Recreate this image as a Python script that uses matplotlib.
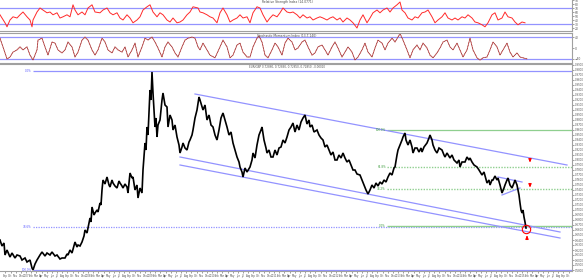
import numpy as np
import matplotlib
matplotlib.use("Agg")
import matplotlib.pyplot as plt

# ---------------- data ----------------
bar = [0, 2, 4, 5, 7, 10, 12, 15, 17, 20,
       22, 25, 27, 30, 32, 33, 35, 37, 40, 42,
       45, 47, 50, 52, 55, 57, 60, 62, 65, 67,
       68, 70, 72, 75, 77, 78, 80, 82, 84, 85,
       87, 88, 90, 91, 92, 94, 95, 97, 98, 100,
       101, 102, 103, 105, 107, 109, 110, 112, 113, 115,
       117, 119, 120, 122, 123, 125, 127, 128, 130, 132,
       133, 135, 137, 138, 140, 142, 143, 145, 146, 147,
       148, 150, 151, 152, 153, 154, 155, 156, 157, 158,
       160, 162, 163, 165, 167, 168, 170, 172, 173, 175,
       177, 179, 180, 182, 183, 185, 187, 189, 190, 192,
       193, 195, 197, 199, 200, 203, 205, 207, 209, 211,
       213, 215, 217, 219, 221, 223, 225, 227, 229, 231,
       233, 235, 237, 239, 240, 242, 243, 245, 247, 250,
       252, 253, 255, 257, 259, 261, 262, 264, 266, 267,
       269, 271, 273, 275, 277, 279, 281, 283, 285, 287,
       289, 291, 293, 295, 297, 299, 301, 303, 305, 307,
       309, 310, 312, 314, 317, 319, 321, 323, 325, 327,
       329, 331, 333, 335, 337, 339, 341, 343, 345, 347,
       349, 351, 353, 355, 357, 360, 362, 364, 366, 368,
       370, 372, 374, 376, 378, 380, 382, 384, 386, 388,
       390, 392, 394, 395, 397, 398, 400, 402, 403, 405,
       406, 408, 410, 412, 413, 415, 417, 419, 421, 422,
       424, 427, 429, 430, 432, 433, 435, 437, 439, 442,
       444, 445, 447, 450, 452, 454, 457, 459, 460, 462,
       465, 467, 469, 470, 472, 474, 477, 479, 482, 484,
       487, 489, 490, 492, 493, 495, 497, 498, 500, 502,
       504, 505, 507, 508, 510, 512, 514, 515, 517, 518,
       519, 520, 521, 522, 523, 524, 525, 526]

close = [0.640, 0.628, 0.634, 0.610, 0.620, 0.606, 0.614, 0.604, 0.610, 0.608,
         0.600, 0.604, 0.596, 0.600, 0.584, 0.580, 0.592, 0.600, 0.610, 0.616,
         0.608, 0.614, 0.610, 0.616, 0.608, 0.610, 0.602, 0.604, 0.604, 0.612,
         0.610, 0.620, 0.614, 0.636, 0.626, 0.630, 0.628, 0.636, 0.648, 0.660,
         0.654, 0.664, 0.684, 0.676, 0.706, 0.690, 0.694, 0.700, 0.696, 0.714,
         0.710, 0.740, 0.760, 0.752, 0.766, 0.750, 0.746, 0.760, 0.754, 0.748,
         0.744, 0.758, 0.754, 0.748, 0.744, 0.752, 0.746, 0.734, 0.774, 0.764,
         0.766, 0.740, 0.750, 0.724, 0.744, 0.734, 0.780, 0.834, 0.820, 0.866,
         0.850, 0.940, 0.920, 0.976, 0.934, 0.900, 0.866, 0.884, 0.846, 0.870,
         0.880, 0.920, 0.934, 0.910, 0.906, 0.866, 0.890, 0.880, 0.860, 0.870,
         0.846, 0.830, 0.814, 0.826, 0.834, 0.824, 0.820, 0.836, 0.840, 0.850,
         0.860, 0.884, 0.900, 0.926, 0.920, 0.900, 0.910, 0.880, 0.890, 0.870,
         0.866, 0.850, 0.840, 0.860, 0.884, 0.894, 0.880, 0.866, 0.850, 0.856,
         0.834, 0.820, 0.806, 0.796, 0.786, 0.776, 0.766, 0.784, 0.776, 0.786,
         0.800, 0.814, 0.804, 0.830, 0.850, 0.860, 0.866, 0.840, 0.824, 0.814,
         0.820, 0.806, 0.806, 0.820, 0.810, 0.824, 0.826, 0.840, 0.834, 0.846,
         0.860, 0.866, 0.874, 0.856, 0.870, 0.860, 0.876, 0.884, 0.890, 0.872,
         0.880, 0.866, 0.870, 0.856, 0.860, 0.850, 0.844, 0.840, 0.826, 0.830,
         0.820, 0.810, 0.816, 0.800, 0.800, 0.810, 0.804, 0.814, 0.804, 0.796,
         0.800, 0.790, 0.780, 0.780, 0.772, 0.770, 0.760, 0.750, 0.740, 0.732,
         0.740, 0.750, 0.744, 0.754, 0.748, 0.756, 0.752, 0.760, 0.756, 0.766,
         0.774, 0.770, 0.784, 0.786, 0.810, 0.820, 0.830, 0.840, 0.846, 0.854,
         0.840, 0.830, 0.840, 0.826, 0.814, 0.824, 0.824, 0.816, 0.824, 0.816,
         0.826, 0.834, 0.844, 0.850, 0.840, 0.830, 0.820, 0.814, 0.824, 0.820,
         0.810, 0.806, 0.814, 0.804, 0.810, 0.800, 0.794, 0.800, 0.786, 0.796,
         0.796, 0.806, 0.800, 0.804, 0.796, 0.790, 0.786, 0.780, 0.770, 0.776,
         0.754, 0.760, 0.750, 0.760, 0.760, 0.768, 0.760, 0.764, 0.750, 0.734,
         0.744, 0.750, 0.760, 0.764, 0.750, 0.744, 0.754, 0.760, 0.750, 0.740,
         0.730, 0.714, 0.700, 0.694, 0.700, 0.686, 0.676, 0.664]

rsi_bar = [0, 2, 5, 7, 10, 13, 17, 20, 23, 27, 30, 32, 33, 37, 40, 43, 47, 50, 53, 57,
           60, 63, 67, 70, 73, 75, 78, 82, 85, 88, 92, 95, 100, 103, 107, 110, 113, 117, 120, 123,
           127, 130, 133, 137, 140, 143, 147, 150, 153, 157, 160, 163, 167, 170, 173, 177, 180, 183, 187, 190,
           193, 198, 200, 203, 207, 210, 213, 217, 220, 223, 227, 230, 233, 237, 240, 243, 247, 250, 253, 257,
           260, 263, 267, 270, 273, 277, 280, 283, 287, 290, 293, 297, 300, 303, 307, 310, 313, 317, 320, 323,
           327, 330, 333, 337, 340, 343, 347, 350, 353, 357, 360, 363, 367, 370, 373, 377, 380, 383, 387, 390,
           393, 397, 400, 402, 405, 408, 412, 415, 418, 422, 425, 428, 432, 435, 438, 442, 445, 448, 452, 455,
           458, 462, 465, 468, 472, 475, 478, 482, 485, 488, 492, 495, 498, 502, 505, 508, 512, 515, 518, 522,
           525]
rsi = [54, 46, 34, 24, 41, 49, 46, 54, 61, 49, 41, 24, 41, 61, 71, 66, 59, 61, 54, 59,
       46, 49, 54, 49, 79, 66, 54, 61, 54, 71, 79, 61, 59, 66, 71, 59, 54, 59, 46, 41,
       54, 46, 34, 41, 49, 66, 74, 79, 61, 49, 59, 54, 41, 36, 46, 34, 36, 41, 54, 61,
       74, 71, 61, 59, 54, 49, 46, 34, 59, 71, 54, 36, 41, 46, 54, 46, 49, 34, 59, 74,
       71, 54, 36, 46, 54, 49, 59, 71, 61, 59, 61, 54, 46, 54, 46, 49, 41, 46, 49, 46,
       41, 46, 49, 41, 46, 36, 46, 41, 34, 21, 41, 54, 34, 46, 59, 66, 59, 66, 71, 61,
       71, 79, 86, 66, 59, 46, 41, 49, 46, 59, 61, 66, 49, 34, 41, 49, 59, 46, 41, 46,
       41, 49, 46, 54, 46, 36, 34, 29, 24, 34, 54, 59, 41, 46, 61, 49, 46, 36, 29, 36,
       34]

sto_bar = [0, 3, 7, 10, 13, 17, 20, 23, 27, 30, 33, 37, 38, 42, 45, 48, 52, 55, 58, 62,
           65, 68, 72, 75, 78, 82, 85, 88, 92, 95, 98, 102, 105, 108, 112, 115, 118, 122, 125, 128,
           132, 135, 138, 142, 145, 148, 152, 155, 158, 162, 165, 168, 172, 175, 178, 182, 185, 188, 192, 195,
           198, 200, 203, 207, 210, 215, 220, 223, 227, 230, 233, 237, 240, 243, 247, 250, 253, 257, 259, 262,
           265, 268, 272, 275, 278, 282, 285, 288, 292, 295, 298, 302, 305, 308, 312, 315, 318, 322, 325, 328,
           332, 335, 338, 342, 345, 348, 352, 355, 358, 362, 365, 368, 372, 375, 378, 382, 385, 388, 392, 395,
           398, 400, 403, 407, 410, 413, 417, 420, 423, 427, 430, 433, 437, 440, 443, 447, 450, 453, 457, 460,
           463, 467, 470, 473, 477, 480, 483, 487, 490, 493, 497, 500, 503, 507, 510, 513, 517, 520, 523, 527]
sto = [36, 4, -40, -33, -15, -7, 4, -7, 4, -26, -44, -7, 29, 36, 4, -26, 22, 18, -7, -18,
       -7, 22, 4, -33, -15, 29, 40, 29, -7, -26, -7, 36, 22, -7, -18, 4, -7, -15, 4, -33,
       -7, 18, -33, 4, 36, 29, 40, 22, 0, -33, 4, 22, 4, -18, -33, 4, 29, 36, 40, 36,
       4, -7, 18, -7, -26, -36, 4, 29, 4, -36, -26, 11, 18, -15, -33, -33, 4, 36, 44, 22,
       -26, -36, -7, 18, 4, -26, 18, 36, 22, -7, 0, 22, 29, 4, -26, -18, 4, 11, -7, -26,
       4, 22, 0, -33, -15, 4, -15, -44, -33, -7, 18, -15, -33, 0, 29, 18, -7, 18, 36, 22,
       40, 53, 29, -7, -36, -7, 11, -7, 18, 0, -26, -36, -18, 0, 22, 29, 4, -7, 18, -7,
       -33, -7, 36, -7, -36, -44, -36, -33, -7, 22, 4, -26, -7, 18, -15, -33, -18, -33, -36, -40]

rsi_levels = [70, 30]
sto_levels = [40, -40]

fib_high, fib_low = 0.978, 0.580
fib_pcts = [0.0, 0.786, 1.0]
fib2_high, fib2_low = 0.860, 0.668
fib2_pcts = [1.0, 0.618, 0.382, 0.0]

chan_upper_x, chan_upper_y = [195, 567], [0.932, 0.790]
chan_low1_x, chan_low1_y = [180, 560], [0.806, 0.656]
chan_low2_x, chan_low2_y = [180, 560], [0.790, 0.644]
flag_up_x, flag_up_y = [498, 522], [0.766, 0.756]
flag_dn_x, flag_dn_y = [502, 520], [0.730, 0.744]

sell_x = [530, 530]
sell_from = [0.806, 0.756]
sell_to = [0.790, 0.740]
buy_x, buy_from, buy_to = 527, 0.640, 0.654
target_x, target_y = 526, 0.662

month_names = ["Jan", "Feb", "Mar", "Apr", "May", "Jun", "Jul", "Aug", "Sep", "Oct", "Nov", "Dec"]
first_year, first_month = 2006, 8
year_anchor_bar, anchor_year, bars_per_year = 150, 2009, 62

title_rsi = "Relative Strength Index (14.0771)"
title_sto = "Stochastic Momentum Index (13,7,140)"
title_main = "EUR/GBP 0.72860, 0.72860, 0.72850, 0.72850, -0.00010"

# ---------------- figure ----------------
W, H = 585, 280
fig = plt.figure(figsize=(W / 100, H / 100), dpi=100)
fig.patch.set_facecolor("white")

def ax_px(x0, y0, x1, y1):
    return fig.add_axes([x0 / W, 1 - y1 / H, (x1 - x0) / W, (y1 - y0) / H])

ax_rsi = ax_px(0, 0, 572, 31)
ax_sto = ax_px(0, 33, 572, 63)
ax = ax_px(0, 64, 572, 271)

XMAX = 572
grey = "#a0a0a0"
blue = "#9393ff"
green = "#8fcf8f"

for a in (ax_rsi, ax_sto, ax):
    a.set_xlim(0, XMAX)
    a.set_facecolor("white")
    a.spines["left"].set_visible(False)
    for s in ("top", "right", "bottom"):
        a.spines[s].set_color(grey)
        a.spines[s].set_linewidth(0.8)
    a.yaxis.tick_right()
    a.tick_params(axis="y", labelsize=2.2, length=1.2, width=0.4, pad=0.8, colors="#555555")

ax_rsi.spines["top"].set_visible(False)
ax_rsi.set_xticks([])
ax_sto.set_xticks([])

# RSI
ax_rsi.set_ylim(13.5, 91)
for lv in rsi_levels:
    ax_rsi.axhline(lv, color=blue, lw=0.9)
ax_rsi.plot(rsi_bar, rsi, color="#ff2a2a", lw=0.7)
ax_rsi.set_yticks(np.arange(20, 91, 10))
ax_rsi.text(0.502, 0.93, title_rsi, transform=ax_rsi.transAxes, ha="center", va="center",
            fontsize=2.2, color="#444444")

# Stochastic
ax_sto.set_ylim(-55, 55)
for lv in sto_levels:
    ax_sto.axhline(lv, color=blue, lw=0.9)
ax_sto.plot(sto_bar, sto, color="#d06060", lw=0.6)
ax_sto.plot(sto_bar, sto, color="#802020", lw=0.5, ls=(0, (1, 1.2)))
ax_sto.set_yticks([40, 0, -40])
ax_sto.text(0.502, 0.9, title_sto, transform=ax_sto.transAxes, ha="center", va="center",
            fontsize=2.2, color="#444444")

# Main price panel
ax.set_ylim(0.578, 0.992)
ax.set_yticks(np.arange(0.58, 0.991, 0.01))
ax.yaxis.set_major_formatter(matplotlib.ticker.FormatStrFormatter("%.4f"))
ax.tick_params(axis="y", labelsize=1.9)

# left fib levels
for p in fib_pcts:
    lvl = fib_high - p * (fib_high - fib_low)
    ls = (0, (1, 1)) if 0 < p < 1 else "-"
    ax.hlines(lvl, 33, XMAX, color=blue, lw=0.9, ls=ls)
    ax.text(32, lvl, f"{p*100:.1f}%", ha="right", va="center", fontsize=2.0, color="#5a5aff")

# right fib levels
for p in fib2_pcts:
    lvl = fib2_low + p * (fib2_high - fib2_low)
    ls = "-" if p in (0.0, 1.0) else (0, (1, 1))
    ax.hlines(lvl, 387, XMAX, color=green, lw=0.9 if p == 1.0 else 1.0, ls=ls)
    ax.text(386, lvl, f"{p*100:.1f}%", ha="right", va="center", fontsize=2.0, color="#3a9a3a")

# channel lines
ax.plot(chan_upper_x, chan_upper_y, color=blue, lw=0.9)
ax.plot(chan_low1_x, chan_low1_y, color=blue, lw=0.9)
ax.plot(chan_low2_x, chan_low2_y, color=blue, lw=0.9)
ax.plot(flag_up_x, flag_up_y, color=blue, lw=0.9)
ax.plot(flag_dn_x, flag_dn_y, color=blue, lw=0.9)

# price
ax.plot(bar, close, color="black", lw=1.2, solid_joinstyle="miter")

# signals
for x, a0, a1 in zip(sell_x, sell_from, sell_to):
    ax.annotate("", xy=(x, a1), xytext=(x, a0),
                arrowprops=dict(arrowstyle="-|>", color="red", lw=0.9, mutation_scale=4))
ax.annotate("", xy=(buy_x, buy_to), xytext=(buy_x, buy_from),
            arrowprops=dict(arrowstyle="-|>", color="red", lw=0.9, mutation_scale=4))
ax.plot([target_x], [target_y], marker="o", ms=6, mfc="none", mec="red", mew=0.8)

ax.text(0.502, 0.993, title_main, transform=ax.transAxes, ha="center", va="top",
        fontsize=2.0, color="#555555")

# date axis (monthly ticks)
ticks, labels = [], []
y, m = first_year, first_month
while True:
    pos = year_anchor_bar + (y - anchor_year) * bars_per_year + (m - 1) * bars_per_year / 12
    if pos > XMAX - 2:
        break
    if pos >= 3:
        ticks.append(pos)
        labels.append(str(y) if m == 1 else month_names[m - 1])
    m += 1
    if m > 12:
        m, y = 1, y + 1
ax.set_xticks(ticks)
ax.set_xticklabels(labels)
ax.tick_params(axis="x", labelsize=1.9, length=1.2, width=0.4, pad=0.8, colors="#555555")

fig.savefig("out.png", dpi=100, facecolor="white")
